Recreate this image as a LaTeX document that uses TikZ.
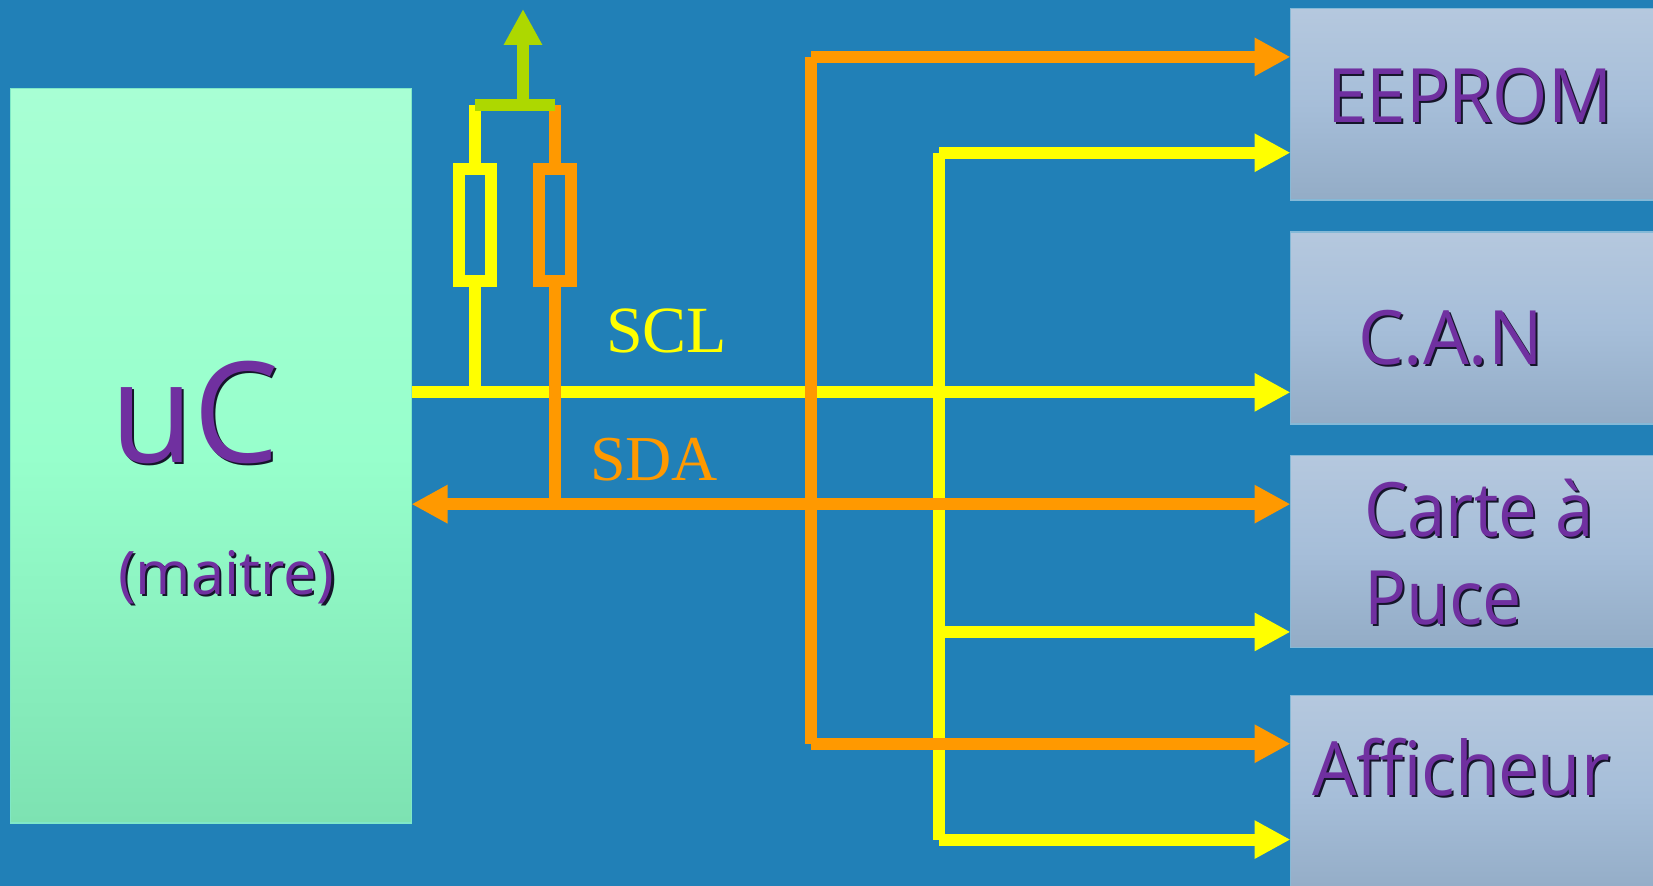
\documentclass[tikz,border=0pt]{standalone}
\usepackage{graphicx}
\usepackage{fontspec}
\setmainfont{Liberation Serif}
\newfontfamily\labfont[FakeStretch=0.92]{Open Sans}
\usetikzlibrary{arrows.meta}
\definecolor{bgblue}{HTML}{2180B7}
\definecolor{busyellow}{HTML}{FFFF00}
\definecolor{busorange}{HTML}{FF9900}
\definecolor{busgreen}{HTML}{ADD800}
\definecolor{labpurple}{HTML}{7030A0}
\definecolor{shadowcol}{HTML}{15152A}
\definecolor{slavetop}{HTML}{B5C8DE}
\definecolor{slavemid}{HTML}{A6BED9}
\definecolor{slavebot}{HTML}{93ACC6}
\definecolor{mastertop}{HTML}{A8FFD4}
\definecolor{mastermid}{HTML}{97FFCC}
\definecolor{masterbot}{HTML}{7DE2B2}
\definecolor{masteredge}{HTML}{7FE8C8}
\newcommand{\shadowed}[3][2bp]{\leavevmode\scalebox{#2}[1]{\rlap{\kern#1\raisebox{-#1}{\textcolor{shadowcol}{#3}}}#3}}
\tikzset{
  slave/.style={draw=white!45!bgblue, line width=1.5bp, top color=slavetop, bottom color=slavebot, middle color=slavemid, inner sep=0bp, outer sep=0bp, anchor=north west, minimum width=372bp},
  master/.style={draw=masteredge, line width=1.5bp, top color=mastertop, bottom color=masterbot, middle color=mastermid, inner sep=0bp, outer sep=0bp, anchor=north west, minimum width=401bp, minimum height=734.6bp},
  resistor/.style={draw, line width=12bp, inner sep=0bp, outer sep=0bp, minimum width=32bp, minimum height=111.8bp},
  wire/.style={line width=12bp},
  bus/.style={wire, -{Triangle[length=36bp,width=36bp]}},
  bibus/.style={wire, {Triangle[length=36bp,width=36bp]}-{Triangle[length=36bp,width=36bp]}},
  devlabel/.style={anchor=base west, inner sep=0bp, outer sep=0bp, text=labpurple, font=\labfont\fontsize{75bp}{75bp}\selectfont},
  signal/.style={anchor=base west, inner sep=0bp, outer sep=0bp, font=\fontsize{64bp}{64bp}\selectfont},
}
\begin{document}
\begin{tikzpicture}[x=1bp,y=-0.9983bp]
\useasboundingbox (0,0) rectangle (1653,887);
\fill[bgblue] (0,0) rectangle (1653,887);
% blocks
\node[master] (uc) at (10.5,88.5) {};
\node[slave, minimum height=191.7bp] (eeprom) at (1290.5,8.5) {};
\node[slave, minimum height=191.7bp] (can) at (1290.5,232.5) {};
\node[slave, minimum height=191.7bp] (carte) at (1290.5,456.5) {};
\node[slave, minimum height=200bp] (aff) at (1290.5,696.5) {};
% junction points
\coordinate (sclrail) at (939,153);
\coordinate (sclrailb) at (939,841);
\coordinate (sclc) at (939,633);
\coordinate (sdarail) at (811,57);
\coordinate (sdarailb) at (811,745);
\coordinate (sclbus) at (411.5,393);
\coordinate (sdabus) at (411.5,505);
\coordinate (ytop) at (475,105);
\coordinate (otop) at (555,105);
\coordinate (vcc) at (523,9);
\coordinate (vccb) at (523,105);
\node[resistor, draw=busyellow] (ry) at (475,225) {};
\node[resistor, draw=busorange] (ro) at (555,225) {};
% yellow SCL
\draw[bus, busyellow] (sclbus) -- (sclbus -| can.west);
\draw[wire, busyellow] (ytop) -- (ry.north);
\draw[wire, busyellow] (ry.south) -- (ry.south |- sclbus);
\draw[wire, busyellow] (sclrail) -- (sclrailb);
\draw[bus, busyellow] (sclrail) -- (sclrail -| eeprom.west);
\draw[bus, busyellow] (sclc) -- (sclc -| carte.west);
\draw[bus, busyellow] (sclrailb) -- (sclrailb -| aff.west);
% orange SDA
\draw[wire, busorange] (otop) -- (ro.north);
\draw[wire, busorange] (ro.south) -- (ro.south |- sdabus);
\draw[wire, busorange] (sdarail) -- (sdarailb);
\draw[bus, busorange] (sdarail) -- (sdarail -| eeprom.west);
\draw[bus, busorange] (sdarailb) -- (sdarailb -| aff.west);
\draw[bibus, busorange] (sdabus) -- (sdabus -| carte.west);
% pull-up
\draw[wire, busgreen] (ytop) -- (otop);
\draw[bus, busgreen] (vccb) -- (vcc);
% labels
\node[signal, text=busyellow, font=\fontsize{66bp}{66bp}\selectfont] (scl) at (606,353) {SCL};
\node[signal, text=busorange] (sda) at (590,481) {SDA};
\node[devlabel, font=\labfont\fontsize{140bp}{140bp}\selectfont] (uclab) at (110,463) {\shadowed[2.5bp]{1.054}{uC}};
\node[devlabel, font=\labfont\fontsize{60bp}{60bp}\selectfont] (mlab) at (118,595) {\shadowed{1.08}{(maitre)}};
\node[devlabel] (elab) at (1327,123) {\shadowed{1.03}{EEPROM}};
\node[devlabel] (clab) at (1358,365) {\shadowed{1.05}{C.A.N}};
\node[devlabel] (c1lab) at (1364,537) {\shadowed{1}{Carte à}};
\node[devlabel] (c2lab) at (1364,626) {\shadowed{1.014}{Puce}};
\node[devlabel] (alab) at (1312,797) {\shadowed{1.018}{Afficheur}};
\end{tikzpicture}
\end{document}
